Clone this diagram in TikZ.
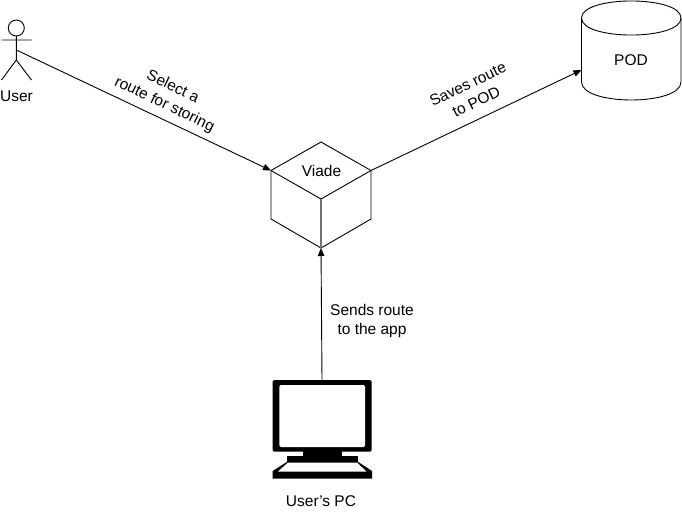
\documentclass[tikz,border=0pt]{standalone}
\usepackage{fontspec}
\setmainfont{Liberation Sans}
\usetikzlibrary{arrows.meta}
\tikzset{
  ln/.style={draw=black,line width=0.9pt,line join=miter},
  conn/.style={ln,-{Triangle[length=8pt,width=6.5pt]}},
  lbl/.style={font=\fontsize{15.5}{19.5}\selectfont,align=center,inner sep=0pt,text=black},
}
\begin{document}
\begin{tikzpicture}[x=1pt,y=-1pt]
\useasboundingbox[fill=white] (0,0) rectangle (682,511);
% named points
\coordinate (userhub) at (16.3,50);
\coordinate (cubeL) at (271,170.5);
\coordinate (cubeR) at (371,170.5);
\coordinate (cubeB) at (321,248);
\coordinate (cylL) at (581.5,70);
\coordinate (pcT) at (322,380);
% actor
\draw[ln] (16.3,28) circle (8);
\draw[ln] (16.3,36) -- (16.3,60) (1.5,40) -- (31.5,40) (1.5,80) -- (16.3,60) -- (31.5,80);
\node[lbl] (userlabel) at (16.5,96) {User};
% cube
\draw[ln] (321,142) -- (cubeR) -- (371,219) -- (cubeB) -- (271,219) -- (cubeL) -- cycle;
\draw[ln] (cubeL) -- (321,199) -- (cubeR);
\draw[draw=black!55,line width=1.2pt] (321,199) -- (cubeB);
\node[lbl] (viade) at (321.5,170.5) {Viade};
% cylinder
\draw[ln] (581.5,18) .. controls (581.5,-4.7) and (681,-4.7) .. (681,18) -- (681,82)
  .. controls (681,106) and (581.5,106) .. (581.5,82) -- cycle;
\draw[ln] (581.5,18) .. controls (581.5,40.7) and (681,40.7) .. (681,18);
\node[lbl] (pod) at (631,60) {POD};
% monitor
\fill[black,rounded corners=1.5pt] (272.7,380) rectangle (371.7,451.7);
\fill[white,rounded corners=1.5pt] (279.3,385) rectangle (365,447);
\fill[black] (303,451) rectangle (341.7,457);
\fill[black] (286.7,456) rectangle (358.3,462.5);
\fill[black] (286.7,462) -- (358.3,462) -- (372,471) -- (372,478.5) -- (272.7,478.5) -- (272.7,471) -- cycle;
\fill[white] (288,462.5) -- (357,462.5) -- (366.5,471.5) -- (278,471.5) -- cycle;
\node[lbl] (pclabel) at (321,501) {User's PC};
% connectors
\draw[conn] (userhub) -- (cubeL);
\draw[conn] (cubeR) -- (cylL);
\draw[conn] (pcT) -- (cubeB);
% labels
\node[lbl,rotate=-25.5] (sel) at (168.5,96) {Select a\\route for storing};
\node[lbl,rotate=25.5] (sav) at (472,93) {Saves route\\to POD};
\node[lbl] (snd) at (372,321) {Sends route\\to the app};
\end{tikzpicture}
\end{document}
